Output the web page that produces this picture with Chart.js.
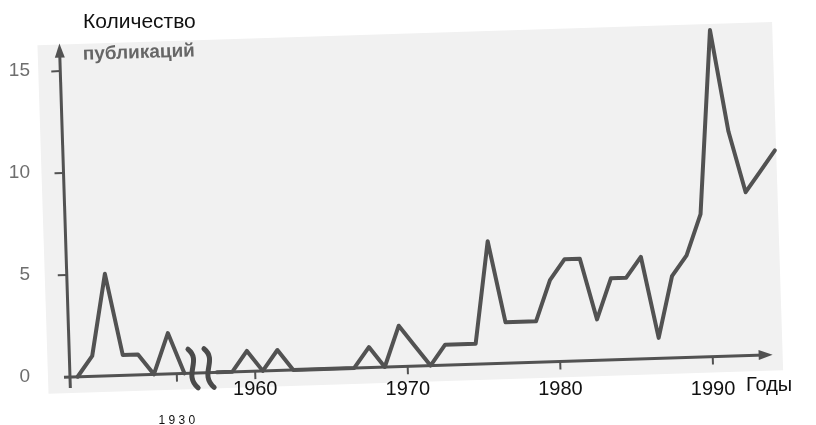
<!DOCTYPE html>
<html>
<head>
<meta charset="utf-8">
<title>Количество публикаций по годам</title>
<script src="https://cdn.jsdelivr.net/npm/chart.js@4.4.1/dist/chart.umd.min.js"></script>
<style>
    html, body { margin: 0; padding: 0; background: #ffffff; }
    #wrap { position: relative; width: 816px; height: 425px; }
</style>
</head>
<body>
<div id="wrap"><canvas id="pubChart"></canvas></div>
<script>

// =========================================
// Data
// =========================================

const earlyYears  = [1923, 1924, 1925, 1926, 1927, 1928, 1929, 1930];
const earlyCounts = [0, 1, 5, 1, 1, 0, 2, 0];

const lateYears = [
    1957, 1958, 1959, 1960, 1961, 1962, 1963, 1964, 1965, 1966,
    1967, 1968, 1969, 1970, 1971, 1972, 1973, 1974, 1975, 1976,
    1977, 1978, 1979, 1980, 1981, 1982, 1983, 1984, 1985, 1986,
    1987, 1988, 1989, 1990, 1991, 1992, 1993, 1994
];
const lateCounts = [
    0, 0, 1, 0, 1, 0, 0, 0, 0, 0,
    1, 0, 2, 1, 0, 1, 1, 1, 6, 2,
    2, 2, 4, 5, 5, 2, 4, 4, 5, 1,
    4, 5, 7, 16, 11, 8, 9, 10
];

const tickYears  = [1930, 1960, 1970, 1980, 1990];
const tickLabels = ["1 9 3 0", "1960", "1970", "1980", "1990"];
const countTicks = [0, 5, 10, 15];

const yTitle = ["Количество", "публикаций"];
const xTitle = "Годы";


// =========================================
// Axis break (1931 - 1956 are cut out)
// =========================================

const cutYears = 24.86;

function toAxis(year) {
    return year > 1940 ? year - cutYears : year;
}

function toPoints(years, counts) {
    // each year is drawn in the middle of its interval
    return years.map((year, i) => ({ x: toAxis(year) + 0.5, y: counts[i] }));
}


// =========================================
// Scan look: the printed figure is a little tilted
// =========================================

const tilt = 1.82 * Math.PI / 180;
const ink = "#525252";

function origin(chart) {
    return {
        x: chart.scales.x.left,
        y: chart.scales.y.getPixelForValue(0)
    };
}

function rotateCtx(chart) {
    const ctx = chart.ctx;
    const o = origin(chart);
    ctx.translate(o.x, o.y);
    ctx.rotate(-tilt);
    ctx.translate(-o.x, -o.y);
}

function squiggle(ctx, cx, top, bottom) {
    ctx.beginPath();
    ctx.moveTo(cx - 4, top);
    ctx.bezierCurveTo(cx + 10, top + 12, cx - 10, bottom - 14, cx + 5, bottom);
    ctx.stroke();
}

const scanPlugin = {

    id: "scan",

    beforeDraw(chart) {

        const ctx = chart.ctx;
        const o = origin(chart);

        ctx.save();
        rotateCtx(chart);
        ctx.fillStyle = "#f1f1f1";
        ctx.fillRect(o.x - 22, chart.chartArea.top + 1, 735, o.y - chart.chartArea.top + 15);
        ctx.restore();

    },

    beforeDatasetsDraw(chart) {

        const ctx = chart.ctx;
        const xs = chart.scales.x;
        const ys = chart.scales.y;
        const o = origin(chart);

        ctx.save();
        rotateCtx(chart);

        ctx.strokeStyle = ink;
        ctx.fillStyle = ink;
        ctx.lineWidth = 3;
        ctx.lineCap = "butt";

        // x axis with arrow
        ctx.beginPath();
        ctx.moveTo(o.x - 6, o.y);
        ctx.lineTo(xs.right - 8, o.y);
        ctx.stroke();
        ctx.beginPath();
        ctx.moveTo(xs.right, o.y);
        ctx.lineTo(xs.right - 14, o.y - 5);
        ctx.lineTo(xs.right - 14, o.y + 5);
        ctx.closePath();
        ctx.fill();

        // y axis with arrow
        ctx.beginPath();
        ctx.moveTo(o.x, o.y + 11);
        ctx.lineTo(o.x, ys.top + 8);
        ctx.stroke();
        ctx.beginPath();
        ctx.moveTo(o.x, ys.top);
        ctx.lineTo(o.x - 5, ys.top + 14);
        ctx.lineTo(o.x + 5, ys.top + 14);
        ctx.closePath();
        ctx.fill();

        // tick marks
        ctx.lineWidth = 2;
        ys.ticks.forEach(t => {
            if (t.value === 0) return;
            const py = ys.getPixelForValue(t.value);
            ctx.beginPath();
            ctx.moveTo(o.x - 9, py);
            ctx.lineTo(o.x, py);
            ctx.stroke();
        });
        xs.ticks.forEach(t => {
            const px = xs.getPixelForValue(t.value);
            ctx.beginPath();
            ctx.moveTo(px, o.y);
            ctx.lineTo(px, o.y + 8);
            ctx.stroke();
        });

        // break marks
        const a = xs.getPixelForValue(toAxis(earlyYears[earlyYears.length - 1]) + 0.5);
        const b = xs.getPixelForValue(toAxis(lateYears[0]) + 0.5);
        const mid = (a + b) / 2;
        ctx.lineWidth = 5;
        ctx.lineCap = "round";
        ctx.strokeStyle = "#4a4a4a";
        squiggle(ctx, mid - 8, o.y - 24, o.y + 15);
        squiggle(ctx, mid + 8, o.y - 24, o.y + 15);

        // second line of the y title is part of the print
        ctx.fillStyle = "#666666";
        ctx.font = "bold 19px 'Liberation Sans', Arial, sans-serif";
        ctx.textAlign = "left";
        ctx.textBaseline = "alphabetic";
        ctx.fillText(yTitle[1], o.x + 23, ys.top + 17);

    },

    afterDatasetsDraw(chart) {

        chart.ctx.restore();

    },

    afterDraw(chart) {

        const ctx = chart.ctx;
        const o = origin(chart);

        ctx.save();
        ctx.fillStyle = "#111111";
        ctx.textAlign = "left";
        ctx.textBaseline = "alphabetic";
        ctx.font = "21px 'Liberation Sans', Arial, sans-serif";
        ctx.fillText(yTitle[0], o.x + 13, 28);

        ctx.font = "20px 'Liberation Sans', Arial, sans-serif";
        ctx.fillText(xTitle, 746, 391);
        ctx.restore();

    }

};


// =========================================
// Chart
// =========================================

Chart.defaults.font.family = "'Liberation Sans', Arial, sans-serif";

const lineStyle = {
    borderColor: ink,
    borderWidth: 4,
    borderJoinStyle: "round",
    borderCapStyle: "round",
    pointRadius: 0,
    tension: 0,
    fill: false,
    clip: false
};

new Chart(document.getElementById("pubChart"), {

    type: "line",

    data: {
        datasets: [
            Object.assign({ label: "1923-1930", data: toPoints(earlyYears, earlyCounts) }, lineStyle),
            Object.assign({ label: "1957-1994", data: toPoints(lateYears, lateCounts) }, lineStyle)
        ]
    },

    plugins: [scanPlugin],

    options: {

        responsive: true,
        maintainAspectRatio: false,
        animation: false,
        events: [],

        layout: {
            padding: { top: 37, right: 43, bottom: 0, left: 0 }
        },

        plugins: {
            legend: { display: false },
            tooltip: { enabled: false }
        },

        scales: {

            x: {
                type: "linear",
                min: 1923,
                max: 1969.07,
                grid: { display: false },
                border: { display: false },
                afterBuildTicks: (scale) => {
                    scale.ticks = tickYears.map(v => ({ value: toAxis(v) }));
                },
                afterFit: (scale) => {
                    scale.height = 48;
                },
                ticks: {
                    autoSkip: false,
                    maxRotation: 0,
                    padding: -8,
                    color: "#111111",
                    font: (c) => c.index === 0
                        ? { size: 12, lineHeight: 1.45 }
                        : { size: 20 },
                    // the small 1930 label sits lower in the print
                    callback: (value, index) => index === 0 ? ["", "", tickLabels[index]] : tickLabels[index]
                }
            },

            y: {
                min: 0,
                max: 16.35,
                grid: { display: false },
                border: { display: false },
                afterBuildTicks: (scale) => {
                    scale.ticks = countTicks.map(v => ({ value: v }));
                },
                afterFit: (scale) => {
                    scale.width = 70;
                },
                ticks: {
                    padding: 32,
                    color: "#6e6e6e",
                    font: { size: 19 }
                }
            }

        }

    }

});

</script>
</body>
</html>
